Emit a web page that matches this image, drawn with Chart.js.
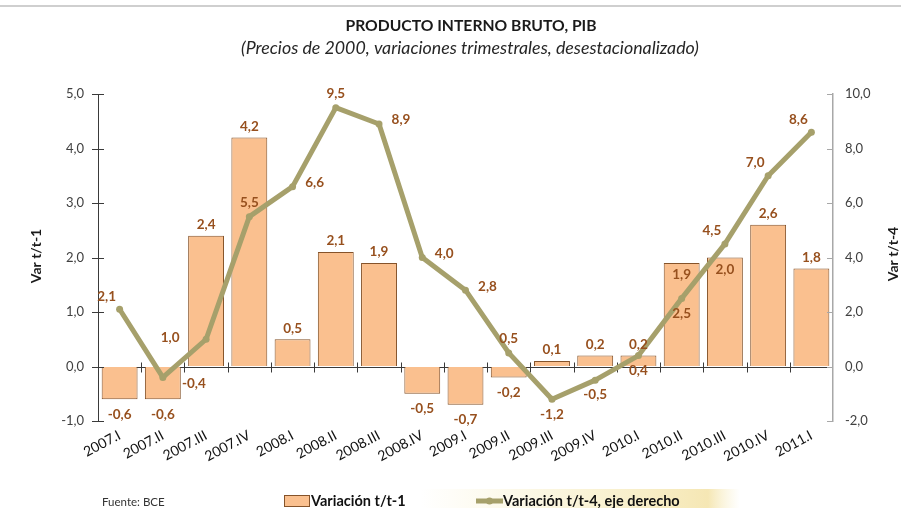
<!DOCTYPE html>
<html><head><meta charset="utf-8">
<script src="https://cdn.jsdelivr.net/npm/chart.js@4.4.0/dist/chart.umd.min.js"></script>
<style>html,body{margin:0;padding:0;background:#fff;}#wrap{width:901px;height:508px;}</style>
</head><body><div id="wrap"><canvas id="c" width="901" height="508"></canvas></div>
<script>
const categories = ['2007.I','2007.II','2007.III','2007.IV','2008.I','2008.II','2008.III','2008.IV','2009.I','2009.II','2009.III','2009.IV','2010.I','2010.II','2010.III','2010.IV','2011.I'];
const varTrimestral = [-0.6,-0.6,2.4,4.2,0.5,2.1,1.9,-0.5,-0.7,-0.2,0.1,0.2,0.2,1.9,2.0,2.6,1.8];
const varAnual = [2.1,-0.4,1.0,5.5,6.6,9.5,8.9,4.0,2.8,0.5,-1.2,-0.5,0.4,2.5,4.5,7.0,8.6];
const leftTicks = [-1,0,1,2,3,4,5];
const rightTicks = [-2,0,2,4,6,8,10];
const barLabelPlacement = ['out','out','out','out','out','out','out','out','out','out','out','out','out','in','in','out','out'];
const lineLabelPlacement = ['upLeft','downRight','left','above','right','above','right','right','right','above','below','below','below','below','upLeft','upLeft','upLeft'];

const FONT = 'Lato, "Open Sans", sans-serif';
const LABEL_COLOR = '#97501E';
const BAR_FILL = '#FAC08F';
const BAR_BORDER = '#85532A';
const LINE_COLOR = '#A6A06B';
const fmt = v => v.toFixed(1).replace('.', ',');

const offsets = {
  above: [0, -14], below: [0, 15], right: [22, -4], left: [-36, -2],
  upLeft: [-13, -13], downRight: [31, 6]
};

const decor = {
  id: 'decor',
  beforeDraw(chart) {
    const ctx = chart.ctx;
    ctx.save();
    ctx.fillStyle = '#ffffff';
    ctx.fillRect(0, 0, chart.width, chart.height);
    ctx.fillStyle = '#cfcfcf';
    ctx.fillRect(0, 5, chart.width, 2);
    // legend glow
    const g = ctx.createLinearGradient(420, 0, 740, 0);
    g.addColorStop(0, 'rgba(245,232,175,0)');
    g.addColorStop(0.5, 'rgba(244,230,168,0.45)');
    g.addColorStop(0.9, 'rgba(240,218,140,0.65)');
    g.addColorStop(1, 'rgba(245,232,175,0)');
    ctx.fillStyle = g;
    ctx.fillRect(420, 489, 320, 19);
    // title
    ctx.fillStyle = '#1a1a1a';
    ctx.textAlign = 'center';
    ctx.textBaseline = 'middle';
    ctx.font = 'bold 15.7px ' + FONT;
    ctx.fillText('PRODUCTO INTERNO BRUTO, PIB', 471, 26);
    ctx.font = 'italic 17.8px ' + FONT;
    ctx.fillStyle = '#262626';
    ctx.fillText('(Precios de 2000, variaciones trimestrales, desestacionalizado)', 470, 48);
    // axis titles
    ctx.font = 'bold 14px ' + FONT;
    ctx.fillStyle = '#1a1a1a';
    ctx.save(); ctx.translate(36, 256); ctx.rotate(-Math.PI/2); ctx.fillText('Var t/t-1', 0, 0); ctx.restore();
    ctx.save(); ctx.translate(893, 254); ctx.rotate(-Math.PI/2); ctx.fillText('Var t/t-4', 0, 0); ctx.restore();
    // source
    ctx.textAlign = 'left';
    ctx.font = '11.5px ' + FONT;
    ctx.fillStyle = '#333';
    ctx.fillText('Fuente: BCE', 102, 502);
    // legend
    ctx.fillStyle = BAR_FILL; ctx.fillRect(284, 495, 25, 11);
    ctx.strokeStyle = BAR_BORDER; ctx.lineWidth = 1; ctx.strokeRect(284.5, 495.5, 25, 11);
    ctx.font = 'bold 14.5px ' + FONT;
    ctx.fillStyle = '#111';
    ctx.fillText('Variación t/t-1', 311, 501);
    ctx.strokeStyle = LINE_COLOR; ctx.lineWidth = 5;
    ctx.beginPath(); ctx.moveTo(476, 501); ctx.lineTo(503, 501); ctx.stroke();
    ctx.fillStyle = LINE_COLOR; ctx.beginPath(); ctx.arc(489.5, 501, 3.5, 0, Math.PI*2); ctx.fill();
    ctx.fillStyle = '#111';
    ctx.fillText('Variación t/t-4, eje derecho', 503, 501);
    ctx.restore();
  },
  beforeDatasetsDraw(chart) {
    const ctx = chart.ctx, x = chart.scales.x, y = chart.scales.y;
    const a = chart.chartArea;
    const y0 = Math.round(y.getPixelForValue(0)) + 0.5;
    ctx.save();
    ctx.strokeStyle = '#3a3a3a'; ctx.lineWidth = 1;
    ctx.beginPath(); ctx.moveTo(a.left, y0); ctx.lineTo(a.right, y0); ctx.stroke();
    for (let i = 1; i < categories.length; i++) {
      const bx = Math.round((x.getPixelForValue(i - 1) + x.getPixelForValue(i)) / 2) + 0.5;
      ctx.beginPath(); ctx.moveTo(bx, y0 - 5); ctx.lineTo(bx, y0 + 5); ctx.stroke();
    }
    ctx.restore();
  },
  afterDatasetsDraw(chart) {
    const ctx = chart.ctx;
    ctx.save();
    ctx.font = 'bold 13.5px ' + FONT;
    ctx.fillStyle = LABEL_COLOR;
    ctx.textAlign = 'center';
    ctx.textBaseline = 'middle';
    const barMeta = chart.getDatasetMeta(1);
    barMeta.data.forEach((el, i) => {
      const v = varTrimestral[i];
      let ly;
      if (barLabelPlacement[i] === 'in') ly = el.y + 12;
      else ly = v >= 0 ? el.y - 11 : el.y + 15;
      ctx.fillText(fmt(v), el.x, ly);
    });
    const lineMeta = chart.getDatasetMeta(0);
    lineMeta.data.forEach((el, i) => {
      const o = offsets[lineLabelPlacement[i]];
      ctx.fillText(fmt(varAnual[i]), el.x + o[0], el.y + o[1]);
    });
    ctx.restore();
  },
  afterDraw(chart) {
    const ctx = chart.ctx, y = chart.scales.y, y1 = chart.scales.y1, a = chart.chartArea;
    ctx.save();
    ctx.lineWidth = 1;
    ctx.strokeStyle = '#3a3a3a';
    leftTicks.forEach(t => {
      const p = Math.round(y.getPixelForValue(t)) + 0.5;
      ctx.beginPath(); ctx.moveTo(a.left - 6, p); ctx.lineTo(a.left + 6, p); ctx.stroke();
    });
    ctx.strokeStyle = '#a8a8a8';
    rightTicks.forEach(t => {
      const p = Math.round(y1.getPixelForValue(t)) + 0.5;
      ctx.beginPath(); ctx.moveTo(a.right - 6, p); ctx.lineTo(a.right, p); ctx.stroke();
    });
    ctx.restore();
  }
};

new Chart(document.getElementById('c'), {
  type: 'bar',
  data: {
    labels: categories,
    datasets: [
      {
        type: 'line', label: 'Variación t/t-4, eje derecho', data: varAnual, yAxisID: 'y1', order: 0,
        borderColor: LINE_COLOR, backgroundColor: LINE_COLOR, borderWidth: 5,
        pointRadius: 3.5, pointBackgroundColor: LINE_COLOR, pointBorderWidth: 0,
        tension: 0, borderJoinStyle: 'round'
      },
      {
        type: 'bar', label: 'Variación t/t-1', data: varTrimestral, yAxisID: 'y', order: 1,
        backgroundColor: BAR_FILL, borderColor: BAR_BORDER, borderWidth: 1,
        barPercentage: 0.83, categoryPercentage: 1.0
      }
    ]
  },
  options: {
    responsive: false,
    animation: false,
    devicePixelRatio: 1,
    layout: { padding: { top: 94, left: 0, right: 0, bottom: 0 } },
    plugins: { legend: { display: false }, title: { display: false }, tooltip: { enabled: false } },
    scales: {
      x: {
        grid: { display: false, drawTicks: false }, border: { display: false },
        ticks: { maxRotation: 28, minRotation: 28, padding: 6, color: '#111', font: { family: FONT, size: 14 } },
        afterFit(s) { s.height = 87; }
      },
      y: {
        position: 'left', min: -1, max: 5,
        grid: { drawOnChartArea: false, drawTicks: false },
        border: { color: '#3a3a3a', width: 1 },
        ticks: { stepSize: 1, padding: 14, color: '#404040', font: { family: FONT, size: 13 }, callback: v => fmt(v) },
        afterFit(s) { s.width = 98; }
      },
      y1: {
        position: 'right', min: -2, max: 10,
        grid: { drawOnChartArea: false, drawTicks: false },
        border: { color: '#a8a8a8', width: 1.5 },
        ticks: { stepSize: 2, padding: 12, color: '#404040', font: { family: FONT, size: 13 }, callback: v => fmt(v) },
        afterFit(s) { s.width = 68; }
      }
    }
  },
  plugins: [decor]
});
</script>
</body></html>
